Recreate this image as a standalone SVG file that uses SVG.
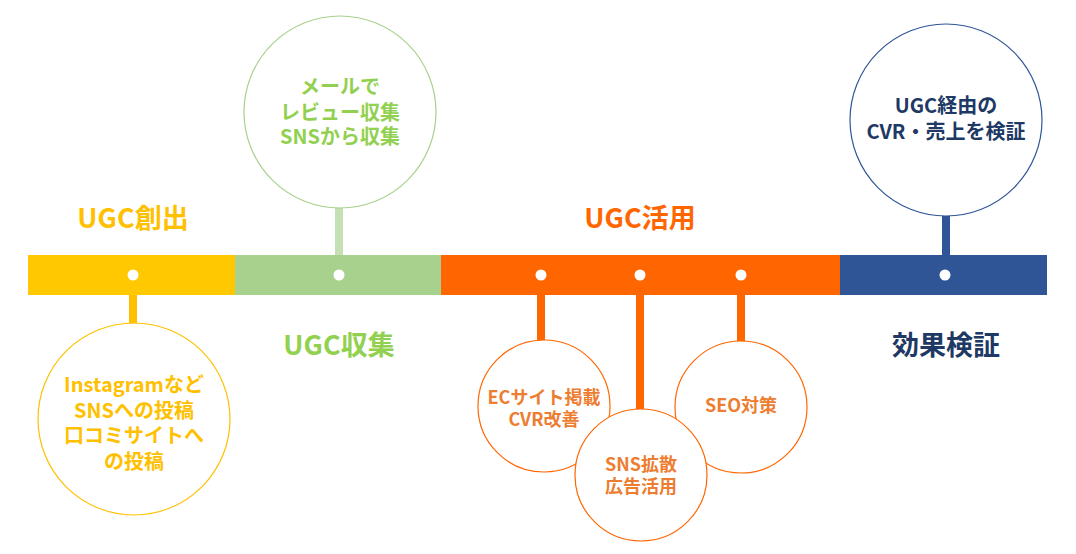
<svg xmlns="http://www.w3.org/2000/svg" width="1076" height="554" viewBox="0 0 1076 554">
<style>
text{font-family:"Noto Sans CJK JP","Noto Sans",sans-serif;font-weight:bold;text-anchor:middle}
.t{font-size:27px}
.c{font-size:20px}
.o{font-size:18px}
.dot{fill:#fff}
.bub{fill:#fff;stroke-width:1.2}
</style>
<rect width="1076" height="554" fill="#fff"/>
<g id="connectors">
<rect x="129" y="295" width="8" height="30" fill="#FFC000"/>
<rect x="335" y="206" width="8" height="50" fill="#C5E0B4"/>
<rect x="537" y="295" width="8" height="48" fill="#FF6600"/>
<rect x="636" y="295" width="8" height="116" fill="#FF6600"/>
<rect x="737" y="295" width="8" height="48" fill="#FF6600"/>
<rect x="942" y="214" width="8" height="42" fill="#2F5597"/>
</g>
<g id="timeline">
<rect x="28" y="255" width="207" height="40" fill="#FFC800"/>
<rect x="235" y="255" width="206" height="40" fill="#A9D18E"/>
<rect x="441" y="255" width="399" height="40" fill="#FF6600"/>
<rect x="840" y="255" width="207" height="40" fill="#2F5597"/>
<circle class="dot" cx="133" cy="275" r="5.5"/>
<circle class="dot" cx="339" cy="275" r="5.5"/>
<circle class="dot" cx="541" cy="275" r="5.5"/>
<circle class="dot" cx="640" cy="275" r="5.5"/>
<circle class="dot" cx="741" cy="275" r="5.5"/>
<circle class="dot" cx="945" cy="275" r="5.5"/>
</g>
<g id="title-create"><text class="t" x="133" y="228" fill="#FFC000">UGC創出</text></g>
<g id="title-collect"><text class="t" x="339" y="355" fill="#92D050">UGC収集</text></g>
<g id="title-use"><text class="t" x="640" y="228" fill="#FF6600">UGC活用</text></g>
<g id="title-verify"><text class="t" x="946" y="355" fill="#203864">効果検証</text></g>
<g id="node-create">
<circle class="bub" cx="134" cy="419" r="96" stroke="#FFC000"/>
<text class="c" fill="#FFC000"><tspan x="134" y="392">Instagramなど</tspan><tspan x="134" y="418">SNSへの投稿</tspan><tspan x="134" y="443">口コミサイトへ</tspan><tspan x="134" y="469">の投稿</tspan></text>
</g>
<g id="node-collect">
<circle class="bub" cx="340" cy="112" r="96" stroke="#A9D18E"/>
<text class="c" fill="#92D050"><tspan x="340" y="94">メールで</tspan><tspan x="340" y="120">レビュー収集</tspan><tspan x="340" y="144">SNSから収集</tspan></text>
</g>
<g id="node-ec">
<circle class="bub" cx="544" cy="406" r="66" stroke="#FF6600"/>
<text class="o" fill="#ED7D31"><tspan x="544" y="404">ECサイト掲載</tspan><tspan x="544" y="426">CVR改善</tspan></text>
</g>
<g id="node-seo">
<circle class="bub" cx="741" cy="407" r="66" stroke="#FF6600"/>
<text class="o" fill="#ED7D31"><tspan x="741" y="412">SEO対策</tspan></text>
</g>
<g id="node-sns">
<circle class="bub" cx="641" cy="475" r="66" stroke="#FF6600"/>
<text class="o" fill="#ED7D31"><tspan x="641" y="471">SNS拡散</tspan><tspan x="641" y="493">広告活用</tspan></text>
</g>
<g id="node-verify">
<circle class="bub" cx="946" cy="120" r="96" stroke="#2F5597"/>
<text class="c" fill="#203864"><tspan x="946" y="113">UGC経由の</tspan><tspan x="946" y="139">CVR・売上を検証</tspan></text>
</g>
</svg>
